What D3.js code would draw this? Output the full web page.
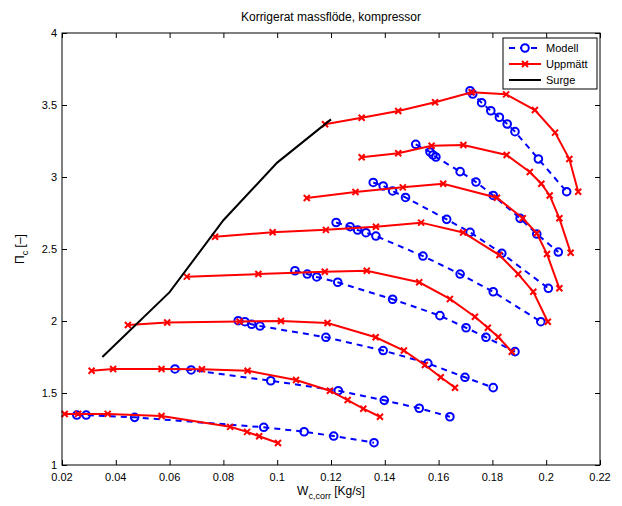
<!DOCTYPE html>
<html>
<head>
<meta charset="utf-8">
<script src="https://cdn.jsdelivr.net/npm/d3@7"></script>
<style>
body { margin: 0; background: #fff; }
text { font-family: "Liberation Sans", Arial, Helvetica, sans-serif; }
</style>
</head>
<body>
<svg></svg>
<script>

// modell (blue dashed, circles), one array per speed line
var modellW = [
  [0.0255, 0.029, 0.047, 0.095, 0.110, 0.121, 0.136],
  [0.062, 0.068, 0.0976, 0.1227, 0.1398, 0.1528, 0.1642],
  [0.0855, 0.088, 0.0905, 0.0936, 0.1181, 0.1394, 0.156, 0.1698, 0.1803],
  [0.1066, 0.1112, 0.1147, 0.1225, 0.1429, 0.1605, 0.1702, 0.1776, 0.1884],
  [0.1219, 0.1271, 0.1299, 0.133, 0.1367, 0.1542, 0.168, 0.1803, 0.198],
  [0.1357, 0.1394, 0.1429, 0.1477, 0.163, 0.1717, 0.1835, 0.2008],
  [0.1515, 0.1568, 0.1579, 0.159, 0.168, 0.1739, 0.1803, 0.1903, 0.1965, 0.2045],
  [0.1717, 0.1727, 0.176, 0.1794, 0.1826, 0.1855, 0.1884, 0.1971, 0.2076]
];
var modellPi = [
  [1.347, 1.347, 1.331, 1.262, 1.231, 1.201, 1.155],
  [1.667, 1.66, 1.585, 1.516, 1.449, 1.394, 1.335],
  [2.002, 1.995, 1.977, 1.965, 1.887, 1.795, 1.706, 1.609, 1.537],
  [2.349, 2.326, 2.306, 2.269, 2.151, 2.037, 1.953, 1.887, 1.787],
  [2.684, 2.655, 2.632, 2.613, 2.59, 2.451, 2.326, 2.203, 1.995],
  [2.962, 2.938, 2.903, 2.858, 2.706, 2.616, 2.47, 2.227],
  [3.227, 3.174, 3.153, 3.139, 3.037, 2.965, 2.872, 2.713, 2.604, 2.479],
  [3.599, 3.576, 3.516, 3.46, 3.415, 3.368, 3.315, 3.125, 2.898]
];

// uppmätt (red, x markers)
var uppmattW = [
  [0.021, 0.026, 0.037, 0.057, 0.0825, 0.0888, 0.0933, 0.1003],
  [0.031, 0.039, 0.057, 0.072, 0.089, 0.107, 0.1196, 0.1262, 0.132, 0.1382],
  [0.0445, 0.0591, 0.086, 0.1014, 0.1187, 0.1366, 0.1471, 0.1549, 0.1608, 0.1661],
  [0.0664, 0.093, 0.1177, 0.1333, 0.1528, 0.1642, 0.1735, 0.1783, 0.1822, 0.1872],
  [0.0769, 0.0983, 0.1181, 0.1367, 0.1535, 0.1691, 0.1826, 0.1896, 0.1952, 0.2006],
  [0.111, 0.1291, 0.1467, 0.1617, 0.1817, 0.1913, 0.1965, 0.2003, 0.2049],
  [0.1314, 0.145, 0.1574, 0.1692, 0.1853, 0.1939, 0.1982, 0.2013, 0.2049, 0.2091],
  [0.1178, 0.1314, 0.145, 0.1587, 0.1723, 0.1851, 0.1958, 0.2033, 0.2086, 0.2119]
];
var uppmattPi = [
  [1.354, 1.355, 1.355, 1.34, 1.265, 1.23, 1.2, 1.153],
  [1.655, 1.667, 1.667, 1.665, 1.655, 1.59, 1.516, 1.451, 1.391, 1.335],
  [1.972, 1.99, 1.997, 2.0, 1.986, 1.887, 1.795, 1.694, 1.609, 1.537],
  [2.308, 2.326, 2.342, 2.349, 2.269, 2.153, 2.03, 1.953, 1.889, 1.787],
  [2.585, 2.616, 2.633, 2.655, 2.683, 2.615, 2.458, 2.326, 2.203, 1.995],
  [2.854, 2.896, 2.928, 2.953, 2.856, 2.713, 2.609, 2.465, 2.227],
  [3.137, 3.165, 3.217, 3.222, 3.153, 3.035, 2.953, 2.872, 2.713, 2.474],
  [3.366, 3.412, 3.458, 3.519, 3.588, 3.574, 3.465, 3.308, 3.125, 2.898]
];

// surge line
var surgeW = [0.035, 0.06, 0.08, 0.10, 0.12];
var surgePi = [1.75, 2.2, 2.7, 3.1, 3.4];

var xTicks = [0.02, 0.04, 0.06, 0.08, 0.1, 0.12, 0.14, 0.16, 0.18, 0.2, 0.22];
var yTicks = [1, 1.5, 2, 2.5, 3, 3.5, 4];
var legendNames = ["Modell", "Uppmätt", "Surge"];

var width = 622, height = 506;
var pL = 62, pR = 600, pT = 33, pB = 465;

var svg = d3.select('svg')
    .attr('width', width)
    .attr('height', height);

svg.append("rect")
    .attr("width", "100%")
    .attr("height", "100%")
    .attr("fill", "white");

var xScale = d3.scaleLinear().domain([0.02, 0.22]).range([pL, pR]);
var yScale = d3.scaleLinear().domain([1, 4]).range([pB, pT]);

var line = d3.line()
    .x(function(d) { return xScale(d[0]); })
    .y(function(d) { return yScale(d[1]); });

function pairs(xs, ys) {
    return xs.map(function(x, i) { return [x, ys[i]]; });
}

// axes, ticks pointing inward like matlab
var fmt = function(d) { return String(d); };

svg.append("g")
    .attr("transform", "translate(0," + pB + ")")
    .call(d3.axisTop(xScale).tickValues(xTicks).tickSize(5).tickFormat(""))
    .call(function(g) { g.select(".domain").remove(); });
svg.append("g")
    .attr("transform", "translate(0," + pT + ")")
    .call(d3.axisBottom(xScale).tickValues(xTicks).tickSize(5).tickFormat(""))
    .call(function(g) { g.select(".domain").remove(); });
svg.append("g")
    .attr("transform", "translate(" + pL + ",0)")
    .call(d3.axisRight(yScale).tickValues(yTicks).tickSize(5).tickFormat(""))
    .call(function(g) { g.select(".domain").remove(); });
svg.append("g")
    .attr("transform", "translate(" + pR + ",0)")
    .call(d3.axisLeft(yScale).tickValues(yTicks).tickSize(5).tickFormat(""))
    .call(function(g) { g.select(".domain").remove(); });

svg.selectAll(".tick line").attr("stroke", "black");

// tick labels
svg.selectAll(".xlab")
    .data(xTicks)
    .enter().append("text")
    .attr("x", function(d) { return xScale(d); })
    .attr("y", pB + 16)
    .attr("text-anchor", "middle")
    .style("font-size", "11px")
    .text(fmt);

svg.selectAll(".ylab")
    .data(yTicks)
    .enter().append("text")
    .attr("x", pL - 5)
    .attr("y", function(d) { return yScale(d) + 4; })
    .attr("text-anchor", "end")
    .style("font-size", "11px")
    .text(fmt);

var plot = svg.append("g");

// modell
for (var i = 0; i < modellW.length; i++) {
    var pts = pairs(modellW[i], modellPi[i]);
    plot.append("path")
        .attr("d", line(pts))
        .attr("fill", "none")
        .attr("stroke", "#0000ff")
        .attr("stroke-width", 2)
        .attr("stroke-dasharray", "6,5");
    plot.selectAll(null)
        .data(pts)
        .enter().append("circle")
        .attr("cx", function(d) { return xScale(d[0]); })
        .attr("cy", function(d) { return yScale(d[1]); })
        .attr("r", 3.8)
        .attr("fill", "none")
        .attr("stroke", "#0000ff")
        .attr("stroke-width", 2);
}

// uppmatt
var cross = "M-3,-3L3,3M-3,3L3,-3";
for (var j = 0; j < uppmattW.length; j++) {
    var pts2 = pairs(uppmattW[j], uppmattPi[j]);
    plot.append("path")
        .attr("d", line(pts2))
        .attr("fill", "none")
        .attr("stroke", "#ff0000")
        .attr("stroke-width", 2);
    plot.selectAll(null)
        .data(pts2)
        .enter().append("path")
        .attr("d", cross)
        .attr("transform", function(d) { return "translate(" + xScale(d[0]) + "," + yScale(d[1]) + ")"; })
        .attr("stroke", "#ff0000")
        .attr("stroke-width", 2);
}

// surge
plot.append("path")
    .attr("d", line(pairs(surgeW, surgePi)))
    .attr("fill", "none")
    .attr("stroke", "black")
    .attr("stroke-width", 2);

// box
svg.append("rect")
    .attr("x", pL)
    .attr("y", pT)
    .attr("width", pR - pL)
    .attr("height", pB - pT)
    .attr("fill", "none")
    .attr("stroke", "black")
    .attr("stroke-width", 1);

// title + labels
svg.append("text")
    .attr("x", (pL + pR) / 2)
    .attr("y", 21)
    .attr("text-anchor", "middle")
    .style("font-size", "12px")
    .text("Korrigerat massflöde, kompressor");

var xl = svg.append("text")
    .attr("x", (pL + pR) / 2)
    .attr("y", 495)
    .attr("text-anchor", "middle")
    .style("font-size", "12px");
xl.append("tspan").text("W");
xl.append("tspan").attr("dy", 4).style("font-size", "9px").text("c,corr");
xl.append("tspan").attr("dy", -4).text(" [Kg/s]");

var yl = svg.append("text")
    .attr("transform", "translate(24," + ((pT + pB) / 2) + ") rotate(-90)")
    .attr("text-anchor", "middle")
    .style("font-size", "12px");
yl.append("tspan").text("\u03A0");
yl.append("tspan").attr("dy", 4).style("font-size", "9px").text("c");
yl.append("tspan").attr("dy", -4).text(" [\u2013]");

// legend
var lg = svg.append("g").attr("transform", "translate(503,38)");
lg.append("rect")
    .attr("width", 94)
    .attr("height", 51)
    .attr("fill", "white")
    .attr("stroke", "black")
    .attr("stroke-width", 1);

var legStyles = [
    { c: "#0000ff", dash: "6,5", mark: "circle" },
    { c: "#ff0000", dash: null, mark: "cross" },
    { c: "black", dash: null, mark: null }
];
legendNames.forEach(function(name, k) {
    var yy = 10 + k * 16;
    var s = legStyles[k];
    lg.append("line")
        .attr("x1", 6).attr("x2", 38)
        .attr("y1", yy).attr("y2", yy)
        .attr("stroke", s.c)
        .attr("stroke-width", 2)
        .attr("stroke-dasharray", s.dash);
    if (s.mark === "circle") {
        lg.append("circle").attr("cx", 22).attr("cy", yy).attr("r", 3.8)
            .attr("fill", "white").attr("stroke", s.c).attr("stroke-width", 2);
    } else if (s.mark === "cross") {
        lg.append("path").attr("d", cross)
            .attr("transform", "translate(22," + yy + ")")
            .attr("stroke", s.c).attr("stroke-width", 2);
    }
    lg.append("text")
        .attr("x", 43)
        .attr("y", yy + 4)
        .style("font-size", "11px")
        .text(name);
});

</script>
</body>
</html>
